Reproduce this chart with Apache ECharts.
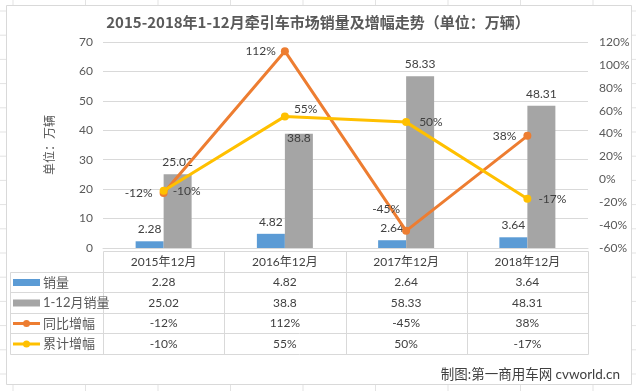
<!DOCTYPE html>
<html>
<head>
<meta charset="utf-8">
<script src="https://cdn.jsdelivr.net/npm/echarts@6/dist/echarts.min.js"></script>
<style>
html,body{margin:0;padding:0;background:#fff;}
#c{width:636px;height:391px;}
</style>
</head>
<body>
<div id="c"></div>
<script>
// ---- data ----
const categories = ['2015年12月', '2016年12月', '2017年12月', '2018年12月'];
const seriesNames = ['销量', '1-12月销量', '同比增幅', '累计增幅'];
const salesDec = [2.28, 4.82, 2.64, 3.64];
const salesYTD = [25.02, 38.8, 58.33, 48.31];
const growthYoY = [-12, 112, -45, 38];
const growthYTD = [-10, 55, 50, -17];
const leftAxis = { min: 0, max: 70, step: 10 };
const rightAxis = { min: -60, max: 120, step: 20 };
const titleText = '2015-2018年1-12月牵引车市场销量及增幅走势（单位：万辆）';
const yAxisTitle = '单位：万辆';
const creditText = '制图:第一商用车网 cvworld.cn';

// ---- style ----
const FONT = "Lato, 'Noto Sans CJK SC', sans-serif";
const CJK = "'Noto Sans CJK SC', sans-serif";
const colors = ['#5B9BD5', '#A5A5A5', '#ED7D31', '#FFC000'];
const gridC = '#D9D9D9';
const txt = '#404040';
const axTxt = '#595959';

const G = { left: 103, right: 588, top: 42, bottom: 248 };

const chart = echarts.init(document.getElementById('c'), null, { renderer: 'canvas' });

const pct = v => v + '%';
const num = v => String(v);

// label placement per point (style, not data)
const yoyLabel = [
  { position: 'left', distance: 7 },
  { position: 'left', distance: 5 },
  { position: 'top', distance: 5, offset: [-20, -7] },
  { position: 'left', distance: 7 }
];
const ytdLabel = [
  { position: 'right', distance: 5 },
  { position: 'right', distance: 5, offset: [0, -7] },
  { position: 'right', distance: 9 },
  { position: 'right', distance: 7 }
];
const barYTDLabel = [{}, { distance: -10 }, {}, {}];

const lblBase = { show: true, color: txt, fontSize: 12, fontFamily: FONT };

const option = {
  animation: false,
  textStyle: { fontFamily: FONT },
  title: {
    text: titleText,
    left: 313, top: 10, textAlign: 'center',
    textStyle: { fontFamily: CJK, fontWeight: 'bold', fontSize: 15, color: axTxt }
  },
  grid: { left: G.left, right: 636 - G.right, top: G.top, bottom: 391 - G.bottom },
  xAxis: {
    type: 'category',
    data: categories,
    axisLine: { show: true, lineStyle: { color: gridC } },
    axisTick: { show: false },
    axisLabel: { show: false }
  },
  yAxis: [
    {
      type: 'value', min: leftAxis.min, max: leftAxis.max, interval: leftAxis.step,
      name: yAxisTitle, nameLocation: 'middle', nameGap: 48, nameRotate: 90,
      nameTextStyle: { fontFamily: CJK, fontSize: 12, color: axTxt },
      axisLine: { show: false }, axisTick: { show: false },
      axisLabel: { color: axTxt, fontSize: 12, margin: 10, fontFamily: FONT },
      splitLine: { lineStyle: { color: gridC, width: 1 } }
    },
    {
      type: 'value', min: rightAxis.min, max: rightAxis.max, interval: rightAxis.step,
      axisLine: { show: false }, axisTick: { show: false },
      axisLabel: { color: axTxt, fontSize: 12, margin: 11, fontFamily: FONT, formatter: '{value}%' },
      splitLine: { show: false }
    }
  ],
  series: [
    {
      name: seriesNames[0], type: 'bar', barWidth: 28, barGap: '0%',
      itemStyle: { color: colors[0] },
      label: Object.assign({}, lblBase, { position: 'top', distance: 6 }),
      data: salesDec
    },
    {
      name: seriesNames[1], type: 'bar', barWidth: 28, barGap: '0%',
      itemStyle: { color: colors[1] },
      label: Object.assign({}, lblBase, { position: 'top', distance: 6 }),
      data: salesYTD.map((v, i) => ({ value: v, label: barYTDLabel[i] }))
    },
    {
      name: seriesNames[2], type: 'line', yAxisIndex: 1, z: 5,
      symbol: 'circle', symbolSize: 8,
      lineStyle: { color: colors[2], width: 3 }, itemStyle: { color: colors[2] },
      label: Object.assign({}, lblBase, { formatter: p => pct(p.value) }),
      data: growthYoY.map((v, i) => ({ value: v, label: yoyLabel[i] }))
    },
    {
      name: seriesNames[3], type: 'line', yAxisIndex: 1, z: 6,
      symbol: 'circle', symbolSize: 8,
      lineStyle: { color: colors[3], width: 3 }, itemStyle: { color: colors[3] },
      label: Object.assign({}, lblBase, { formatter: p => pct(p.value) }),
      data: growthYTD.map((v, i) => ({ value: v, label: ytdLabel[i] }))
    }
  ]
};

chart.setOption(option);

// ---- data table & decorations ----
const g = [];
// excel sheet grid in the background
for (let y = 11; y < 391; y += 24.2) {
  g.push({ type: 'line', z: -20, silent: true, shape: { x1: 0, y1: y, x2: 636, y2: y }, style: { stroke: '#E3E3E3', lineWidth: 1 } });
}
for (let x = 13; x < 636; x += 72.5) {
  g.push({ type: 'line', z: -20, silent: true, shape: { x1: x, y1: 0, x2: x, y2: 391 }, style: { stroke: '#E3E3E3', lineWidth: 1 } });
}
// chart area
g.push({ type: 'rect', z: -10, silent: true, shape: { x: 6.5, y: 5.5, width: 625, height: 379 }, style: { fill: '#fff', stroke: '#D9D9D9', lineWidth: 1 } });

const rowsY = [251.5, 272.5, 292.5, 313.5, 333.5, 354.5];
const tL = 10.5;
const colX = [];
const centers = categories.map(c => chart.convertToPixel({ xAxisIndex: 0 }, c));
const half = (centers[1] - centers[0]) / 2;
colX.push(G.left);
centers.forEach(c => colX.push(Math.round(c + half) + 0.5));
colX[0] = G.left + 0.5;
colX[colX.length - 1] = G.right + 0.5;

// horizontal lines
g.push({ type: 'line', z: 1, silent: true, shape: { x1: colX[0], y1: rowsY[0], x2: colX[4], y2: rowsY[0] }, style: { stroke: gridC } });
for (let r = 1; r < rowsY.length; r++) {
  g.push({ type: 'line', z: 1, silent: true, shape: { x1: tL, y1: rowsY[r], x2: colX[4], y2: rowsY[r] }, style: { stroke: gridC } });
}
// vertical lines
g.push({ type: 'line', z: 1, silent: true, shape: { x1: tL, y1: rowsY[1], x2: tL, y2: rowsY[5] }, style: { stroke: gridC } });
colX.forEach(x => g.push({ type: 'line', z: 1, silent: true, shape: { x1: x, y1: rowsY[0], x2: x, y2: rowsY[5] }, style: { stroke: gridC } }));

// header
categories.forEach((c, i) => {
  g.push({ type: 'text', z: 2, silent: true, x: centers[i], y: (rowsY[0] + rowsY[1]) / 2,
    style: { text: c, fill: txt, font: '12px ' + FONT, align: 'center', verticalAlign: 'middle' } });
});
const rows = [
  { vals: salesDec, fmt: num },
  { vals: salesYTD, fmt: num },
  { vals: growthYoY, fmt: pct },
  { vals: growthYTD, fmt: pct }
];
rows.forEach((row, r) => {
  const cy = (rowsY[r + 1] + rowsY[r + 2]) / 2;
  row.vals.forEach((v, i) => {
    g.push({ type: 'text', z: 2, silent: true, x: centers[i], y: cy,
      style: { text: row.fmt(v), fill: txt, font: '12px ' + FONT, align: 'center', verticalAlign: 'middle' } });
  });
  // legend key
  if (r < 2) {
    g.push({ type: 'rect', z: 2, silent: true, shape: { x: 13, y: cy - 3.5, width: 27, height: 7 }, style: { fill: colors[r] } });
  } else {
    g.push({ type: 'line', z: 2, silent: true, shape: { x1: 13, y1: cy, x2: 40, y2: cy }, style: { stroke: colors[r], lineWidth: 3 } });
    g.push({ type: 'circle', z: 3, silent: true, shape: { cx: 26.5, cy: cy, r: 3.5 }, style: { fill: colors[r] } });
  }
  g.push({ type: 'text', z: 2, silent: true, x: 43, y: cy,
    style: { text: seriesNames[r], fill: axTxt, font: '13px ' + FONT, align: 'left', verticalAlign: 'middle' } });
});
// credit
g.push({ type: 'text', z: 2, silent: true, x: 620, y: 375,
  style: { text: creditText, fill: txt, font: '13.5px ' + FONT, align: 'right', verticalAlign: 'middle' } });

chart.setOption({ graphic: { elements: g } });
</script>
</body>
</html>
